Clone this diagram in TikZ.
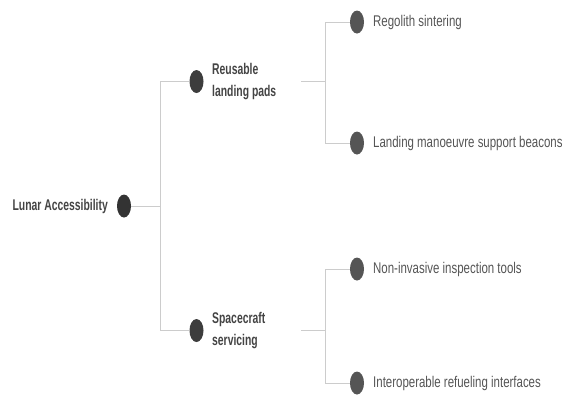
\documentclass[tikz,border=0pt]{standalone}
\usepackage{fontspec}
\setmainfont{Liberation Sans}[FakeStretch=0.74,BoldFeatures={FakeStretch=0.67}]
\usetikzlibrary{shapes.geometric}
\definecolor{linec}{HTML}{CCCCCC}
\definecolor{dotdark}{HTML}{333333}
\definecolor{dotmid}{HTML}{3D3D3D}
\definecolor{dotlight}{HTML}{555555}
\definecolor{txtdark}{HTML}{444444}
\definecolor{txtlight}{HTML}{555555}
\begin{document}
\begin{tikzpicture}[x=1pt,y=-1pt,
  dotnode/.style={ellipse,inner sep=0pt,minimum width=14pt,minimum height=23pt},
  rootlbl/.style={anchor=east,inner sep=0pt,font=\fontsize{15.5}{18}\selectfont\bfseries,text=txtdark},
  midlbl/.style={anchor=west,inner sep=0pt,align=left,font=\fontsize{15.5}{22}\selectfont\bfseries,text=txtdark},
  leaflbl/.style={anchor=west,inner sep=0pt,font=\fontsize{15.5}{18}\selectfont,text=txtlight},
  conn/.style={draw=linec,line width=0.8pt}]
\useasboundingbox (0,0) rectangle (563,400);
% root
\node[dotnode,fill=dotdark] (r) at (124,206) {};
\node[rootlbl] (rl) at (108,206) {Lunar Accessibility};
% level 1
\node[dotnode,fill=dotmid] (a) at (196.5,81.5) {};
\node[midlbl] (al) at (212,82) {Reusable\\landing pads};
\node[dotnode,fill=dotmid] (b) at (196.5,330.5) {};
\node[midlbl] (bl) at (212,331) {Spacecraft\\servicing};
% level 2
\node[dotnode,fill=dotlight] (a1) at (357,22) {};
\node[leaflbl] (a1l) at (373,22) {Regolith sintering};
\node[dotnode,fill=dotlight] (a2) at (357,143) {};
\node[leaflbl] (a2l) at (373,143) {Landing manoeuvre support beacons};
\node[dotnode,fill=dotlight] (b1) at (357,269) {};
\node[leaflbl] (b1l) at (373,269) {Non-invasive inspection tools};
\node[dotnode,fill=dotlight] (b2) at (357,383) {};
\node[leaflbl] (b2l) at (373,383) {Interoperable refueling interfaces};
% junctions
\coordinate (j0) at (160,206);
\coordinate (ao) at (301,81);
\coordinate (ja) at (325,81);
\coordinate (bo) at (301,330);
\coordinate (jb) at (325,330);
% connectors
\draw[conn] (r.east) -- (j0);
\draw[conn] (j0) |- (a.west);
\draw[conn] (j0) |- (b.west);
\draw[conn] (ao) -- (ja);
\draw[conn] (ja) |- (a1.west);
\draw[conn] (ja) |- (a2.west);
\draw[conn] (bo) -- (jb);
\draw[conn] (jb) |- (b1.west);
\draw[conn] (jb) |- (b2.west);
\end{tikzpicture}
\end{document}
